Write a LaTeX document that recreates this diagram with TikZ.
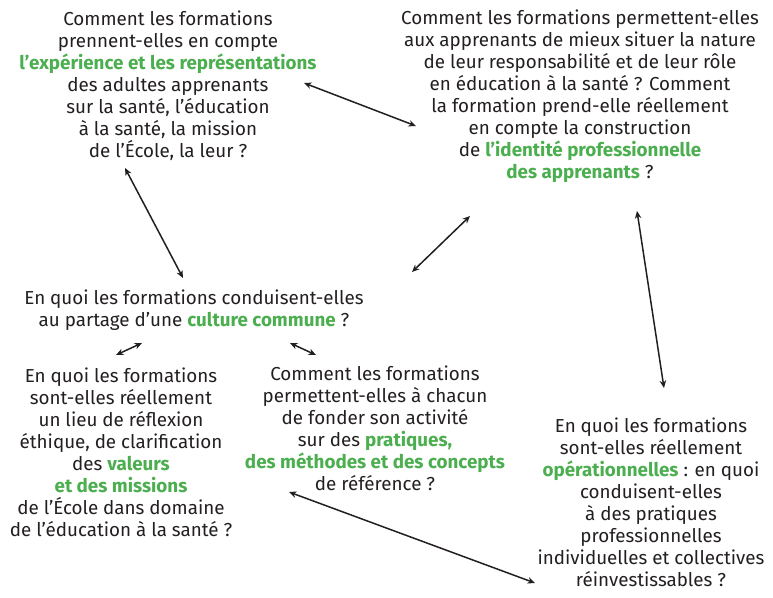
\documentclass[tikz,border=0pt]{standalone}
\usepackage{fontspec}
\setmainfont{Fira Sans}
\usetikzlibrary{arrows.meta}
\definecolor{vert}{HTML}{4BAE4F}
\definecolor{encre}{HTML}{231F20}
\newcommand{\mot}[1]{\textbf{\textcolor{vert}{#1}}}

\begin{document}
\begin{tikzpicture}[x=1pt,y=-1pt,
  question/.style={align=center,text=encre,inner sep=0pt,font=\fontsize{18.8}{22}\selectfont},
  lien/.style={{Stealth[length=7.5pt,width=6.5pt]}-{Stealth[length=7.5pt,width=6.5pt]},line width=1.5pt,draw=encre}]
    \useasboundingbox (0,0) rectangle (773,597);

    \node[question] (experience) at (168,86) {Comment les formations\\prennent-elles en compte\\\mot{l’expérience et les représentations}\\des adultes apprenants\\sur la santé, l’éducation\\à la santé, la mission\\de l’École, la leur ?};
    \node[question] (identite) at (580,96) {Comment les formations permettent-elles\\aux apprenants de mieux situer la nature\\de leur responsabilité et de leur rôle\\en éducation à la santé ? Comment\\la formation prend-elle réellement\\en compte la construction\\de \mot{l’identité professionnelle}\\\mot{des apprenants} ?};
    \node[question] (culture) at (194,310) {En quoi les formations conduisent-elles\\au partage d’une \mot{culture commune} ?};
    \node[question] (valeurs) at (121,452) {En quoi les formations\\sont-elles réellement\\un lieu de réflexion\\éthique, de clarification\\des \mot{valeurs}\\\mot{et des missions}\\de l’École dans domaine\\de l’éducation à la santé ?};
    \node[question] (pratiques) at (375,428) {Comment les formations\\permettent-elles à chacun\\de fonder son activité\\sur des \mot{pratiques,}\\\mot{des méthodes et des concepts}\\de référence ?};
    \node[question] (operation) at (651,502) {En quoi les formations\\sont-elles réellement\\\mot{opérationnelles} : en quoi\\conduisent-elles\\à des pratiques\\professionnelles\\individuelles et collectives\\réinvestissables ?};

    % bouts des fleches
    \coordinate (exp-id) at (304,83);
    \coordinate (id-exp) at (416,126);
    \coordinate (exp-cu) at (125,168);
    \coordinate (cu-exp) at (183,278);
    \coordinate (cu-id) at (412,272);
    \coordinate (id-cu) at (470,216);
    \coordinate (id-op) at (637,211);
    \coordinate (op-id) at (664,388);
    \coordinate (cu-va) at (142,343);
    \coordinate (va-cu) at (116,355);
    \coordinate (cu-pr) at (290,343);
    \coordinate (pr-cu) at (316,355);
    \coordinate (pr-op) at (289,492);
    \coordinate (op-pr) at (535,583);

    \draw[lien] (exp-id) -- (id-exp);
    \draw[lien] (exp-cu) -- (cu-exp);
    \draw[lien] (cu-id) -- (id-cu);
    \draw[lien] (id-op) -- (op-id);
    \draw[lien] (cu-va) -- (va-cu);
    \draw[lien] (cu-pr) -- (pr-cu);
    \draw[lien] (pr-op) -- (op-pr);
\end{tikzpicture}
\end{document}
